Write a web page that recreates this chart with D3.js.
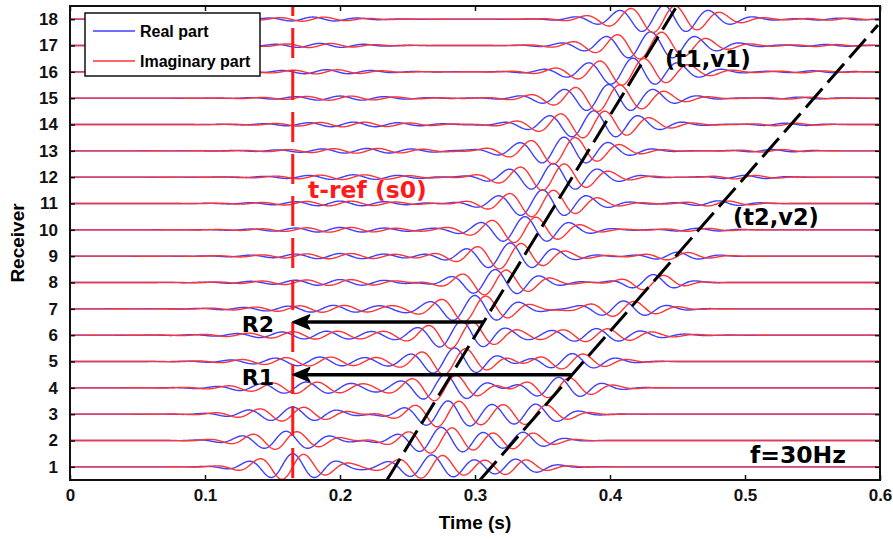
<!DOCTYPE html>
<html>
<head>
<meta charset="utf-8">
<script src="https://cdn.jsdelivr.net/npm/d3@7"></script>
<style>
  body { margin: 0; background: #fff; }
  svg text { font-family: "Liberation Sans", Arial, sans-serif; font-weight: bold; }
  .note { font-family: "DejaVu Sans", sans-serif; font-weight: bold; }
</style>
</head>
<body>
<script>

// tick labels
var timeTicks = [0, 0.1, 0.2, 0.3, 0.4, 0.5, 0.6];
var receivers = [1, 2, 3, 4, 5, 6, 7, 8, 9, 10, 11, 12, 13, 14, 15, 16, 17, 18];

// wave packets per receiver (centre s, amplitude in trace units, width s)
var freq = 30;
var earlyT = [0.165, 0.16, 0.165, 0.175, 0.185, 0.19, 0.195, 0.2, 0.2, 0.2, 0.2, 0.21, 0.22, 0.21, 0.2, 0.19, 0.185, 0.18];
var earlyA = [0.5, 0.35, 0.27, 0.22, 0.17, 0.15, 0.13, 0.11, 0.1, 0.09, 0.09, 0.09, 0.09, 0.09, 0.08, 0.08, 0.08, 0.08];
var earlyW = [0.025, 0.028, 0.032, 0.04, 0.045, 0.05, 0.05, 0.05, 0.048, 0.045, 0.045, 0.045, 0.05, 0.045, 0.04, 0.035, 0.032, 0.03];

var mainT = [0.268, 0.275, 0.28, 0.278, 0.285, 0.29, 0.30, 0.315, 0.326, 0.337, 0.35, 0.358, 0.366, 0.388, 0.399, 0.417, 0.43, 0.44];
var mainA = [0.45, 0.5, 0.5, 0.5, 0.5, 0.5, 0.5, 0.5, 0.5, 0.5, 0.52, 0.52, 0.52, 0.52, 0.52, 0.52, 0.52, 0.52];
var mainW = [0.025, 0.027, 0.028, 0.026, 0.026, 0.026, 0.028, 0.028, 0.03, 0.03, 0.031, 0.032, 0.033, 0.035, 0.035, 0.036, 0.036, 0.035];

var secondT = [0.33, 0.335, 0.345, 0.362, 0.372, 0.39, 0.41, 0.432, 0.45, 0.465, 0.48, 0.5, 0.52, 0.53, 0.54, 0.55, 0.56, 0.57];
var secondA = [0.28, 0.3, 0.35, 0.4, 0.3, 0.25, 0.3, 0.3, 0.15, 0.06, 0.1, 0.07, 0.05, 0.05, 0.04, 0.04, 0.04, 0.04];
var secondW = [0.02, 0.02, 0.022, 0.025, 0.025, 0.035, 0.025, 0.018, 0.02, 0.02, 0.02, 0.02, 0.02, 0.02, 0.02, 0.02, 0.02, 0.02];

// moveout lines [time, receiver]
var line1 = [[0.2348, 0.5], [0.4496, 18.5]];
var line2 = [[0.3037, 0.5], [0.5985, 17.78]];
var tRef = 0.165;
// arrows: [from time, to time, receiver]
var arrows = [
    {name: "R2", from: 0.3061, to: tRef, rec: 6.5},
    {name: "R1", from: 0.3718, to: tRef, rec: 4.5}
];

var width = 893, height = 540;
var padL = 70, padR = 880, padT = 6, padB = 480;

var svg = d3.select("body").append("svg")
    .attr("width", width)
    .attr("height", height);

var x = d3.scaleLinear().domain([0, 0.6]).range([padL, padR]);
var y = d3.scaleLinear().domain([0.5, 18.5]).range([padB, padT]);

svg.append("clipPath").attr("id", "plot")
    .append("rect")
    .attr("x", padL).attr("y", padT)
    .attr("width", padR - padL).attr("height", padB - padT);

var plot = svg.append("g").attr("clip-path", "url(#plot)");

// build real / imaginary trace for one receiver
function trace(i){
    var packets = [[earlyT, earlyA, earlyW], [mainT, mainA, mainW], [secondT, secondA, secondW]];
    return d3.range(0, 0.6005, 0.0005).map(function(t){
        var re = 0, im = 0;
        packets.forEach(function(p){
            var c = p[0][i], a = p[1][i], w = p[2][i];
            var env = a * Math.exp(-0.5 * Math.pow((t - c) / w, 2));
            var ph = 2 * Math.PI * freq * (t - c);
            re += env * Math.cos(ph);
            im += env * Math.sin(ph);
        });
        return {t: t, re: re, im: im};
    });
}

var lineRe = d3.line().x(function(d){ return x(d.t); }).y(function(d){ return y(d.r + d.re); });
var lineIm = d3.line().x(function(d){ return x(d.t); }).y(function(d){ return y(d.r + d.im); });

receivers.forEach(function(r, i){
    var pts = trace(i).map(function(d){ d.r = r; return d; });
    plot.append("path").datum(pts)
        .attr("d", lineRe)
        .attr("fill", "none")
        .attr("stroke", "#3f3fff")
        .attr("stroke-width", 1.4);
    plot.append("path").datum(pts)
        .attr("d", lineIm)
        .attr("fill", "none")
        .attr("stroke", "#ff3535")
        .attr("stroke-width", 1.4);
});

// t-ref dashed line
plot.append("line")
    .attr("x1", x(tRef)).attr("x2", x(tRef))
    .attr("y1", y(18.5)).attr("y2", y(0.5))
    .attr("stroke", "#ff1a1a")
    .attr("stroke-width", 3)
    .attr("stroke-dasharray", "30,12")
    .attr("stroke-dashoffset", 20);

// moveout lines
var moveLine = d3.line().x(function(d){ return x(d[0]); }).y(function(d){ return y(d[1]); });
[line1, line2].forEach(function(l){
    plot.append("path").datum(l)
        .attr("d", moveLine)
        .attr("fill", "none")
        .attr("stroke", "#000")
        .attr("stroke-width", 3)
        .attr("stroke-dasharray", "25,8");
});

// arrows
arrows.forEach(function(a){
    var x0 = x(a.from), x1 = x(a.to), yy = y(a.rec);
    svg.append("line")
        .attr("x1", x0).attr("x2", x1 + 10)
        .attr("y1", yy).attr("y2", yy)
        .attr("stroke", "#000")
        .attr("stroke-width", 3.5);
    svg.append("path")
        .attr("d", "M" + x1 + "," + yy + " L" + (x1 + 17) + "," + (yy - 7) +
            " L" + (x1 + 13) + "," + yy + " L" + (x1 + 17) + "," + (yy + 7) + "Z")
        .attr("fill", "#000")
        .attr("stroke", "#000")
        .attr("stroke-width", 1.5)
        .attr("stroke-linejoin", "round");
    svg.append("text").attr("class", "note")
        .attr("x", x1 - 51).attr("y", yy + 10)
        .attr("font-size", 22)
        .text(a.name);
});

// annotations
svg.append("text").attr("class", "note")
    .attr("x", 308).attr("y", 198)
    .attr("font-size", 23.5)
    .attr("fill", "#ff1a1a")
    .text("t-ref (s0)");
svg.append("text").attr("class", "note")
    .attr("x", 665).attr("y", 67)
    .attr("font-size", 22.5)
    .text("(t1,v1)");
svg.append("text").attr("class", "note")
    .attr("x", 733).attr("y", 225)
    .attr("font-size", 22.5)
    .text("(t2,v2)");
svg.append("text").attr("class", "note")
    .attr("x", 750).attr("y", 463)
    .attr("font-size", 23.5)
    .text("f=30Hz");

// axes, ticks pointing inward
var fmt = function(d){ return d === 0 ? "0" : d3.format(".1f")(d); };
svg.append("g")
    .attr("transform", "translate(0," + padB + ")")
    .call(d3.axisBottom(x).tickValues(timeTicks).tickFormat(fmt).tickSize(-5).tickPadding(9));
svg.append("g")
    .attr("transform", "translate(0," + padT + ")")
    .call(d3.axisTop(x).tickValues(timeTicks).tickFormat("").tickSize(-5));
svg.append("g")
    .attr("transform", "translate(" + padL + ",0)")
    .call(d3.axisLeft(y).tickValues(receivers).tickFormat(d3.format("d")).tickSize(-5).tickPadding(12));
svg.append("g")
    .attr("transform", "translate(" + padR + ",0)")
    .call(d3.axisRight(y).tickValues(receivers).tickFormat("").tickSize(-5));

svg.selectAll(".tick text")
    .attr("font-size", 17)
    .attr("font-family", "Liberation Sans, Arial, sans-serif")
    .attr("font-weight", "bold")
    .attr("fill", "#111");
svg.selectAll(".tick line").attr("stroke", "#111").attr("stroke-width", 1.5);
svg.selectAll(".domain").remove();

svg.append("rect")
    .attr("x", padL).attr("y", padT)
    .attr("width", padR - padL).attr("height", padB - padT)
    .attr("fill", "none")
    .attr("stroke", "#111")
    .attr("stroke-width", 2);

svg.append("text")
    .attr("x", (padL + padR) / 2).attr("y", 529)
    .attr("text-anchor", "middle")
    .attr("font-size", 19)
    .text("Time (s)");
svg.append("text")
    .attr("transform", "translate(24," + ((padT + padB) / 2) + ") rotate(-90)")
    .attr("text-anchor", "middle")
    .attr("font-size", 19)
    .text("Receiver");

// legend
var legend = svg.append("g").attr("transform", "translate(85,13)");
legend.append("rect")
    .attr("width", 175).attr("height", 63)
    .attr("fill", "#fff")
    .attr("stroke", "#111")
    .attr("stroke-width", 1.5);
[["Real part", "#3f3fff"], ["Imaginary part", "#ff3535"]].forEach(function(d, i){
    var yy = 18 + i * 30;
    legend.append("line")
        .attr("x1", 8).attr("x2", 50)
        .attr("y1", yy).attr("y2", yy)
        .attr("stroke", d[1]).attr("stroke-width", 1.6);
    legend.append("text")
        .attr("x", 55).attr("y", yy + 6)
        .attr("font-size", 16)
        .text(d[0]);
});

</script>
</body>
</html>
